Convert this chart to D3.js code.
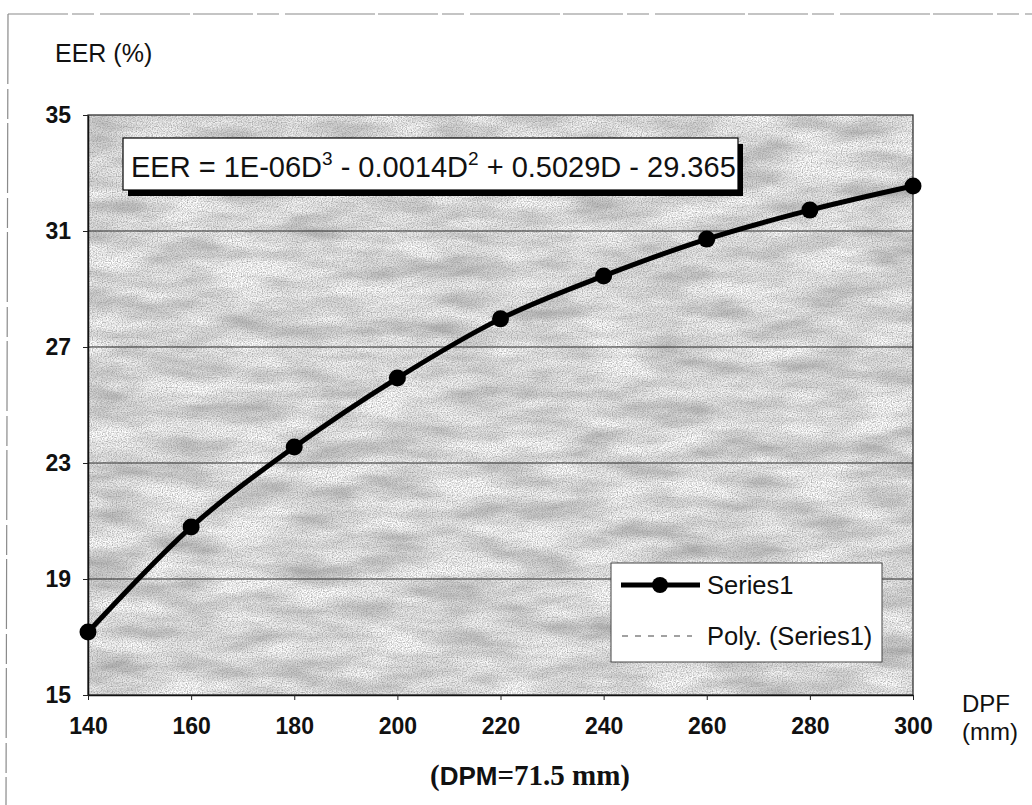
<!DOCTYPE html>
<html>
<head>
<meta charset="utf-8">
<script src="https://cdn.jsdelivr.net/npm/d3@7"></script>
<style>
  html, body { margin: 0; padding: 0; background: #fff; }
  svg { display: block; }
  .sans { font-family: "Liberation Sans", Arial, sans-serif; }
  .serif { font-family: "Liberation Serif", "Times New Roman", serif; }
</style>
</head>
<body>
<svg id="chart" width="1032" height="805"></svg>
<script>
// DPF (mm) on the horizontal axis
const dpf = [140, 160, 180, 200, 220, 240, 260, 280, 300];
// EER (%) measured at each DPF
const eer = [17.17, 20.79, 23.55, 25.93, 27.97, 29.45, 30.72, 31.72, 32.55];
const xTicks = [140, 160, 180, 200, 220, 240, 260, 280, 300];
const yTicks = [15, 19, 23, 27, 31, 35];
const seriesNames = ["Series1", "Poly. (Series1)"];

const svg = d3.select("#chart");
const plot = { left: 88, right: 913, top: 115, bottom: 695 };

const x = d3.scaleLinear().domain([140, 300]).range([plot.left, plot.right]);
const y = d3.scaleLinear().domain([15, 35]).range([plot.bottom, plot.top]);

// page frame (thin dashed lines along top and left)
svg.append("line").attr("x1", 8).attr("y1", 14).attr("x2", 1032).attr("y2", 14)
  .attr("stroke", "#8a8a8a").attr("stroke-width", 1.2).attr("stroke-dasharray", "60,4,22,6,90,3");
svg.append("line").attr("x1", 8).attr("y1", 14).attr("x2", 6).attr("y2", 805)
  .attr("stroke", "#8a8a8a").attr("stroke-width", 1.2).attr("stroke-dasharray", "70,5,30,4");

// mottled gray texture for the plot area
const defs = svg.append("defs");
const f = defs.append("filter").attr("id", "mottle")
  .attr("filterUnits", "objectBoundingBox").attr("x", 0).attr("y", 0).attr("width", 1).attr("height", 1);
f.append("feTurbulence").attr("type", "fractalNoise").attr("baseFrequency", "0.014 0.05")
  .attr("numOctaves", 3).attr("seed", 7).attr("result", "big");
f.append("feColorMatrix").attr("in", "big").attr("type", "matrix")
  .attr("values", "0.9 0 0 0 0.34  0.9 0 0 0 0.34  0.9 0 0 0 0.34  0 0 0 0 1").attr("result", "bigGray");
f.append("feTurbulence").attr("type", "fractalNoise").attr("baseFrequency", "0.8")
  .attr("numOctaves", 1).attr("seed", 2).attr("result", "fine");
f.append("feColorMatrix").attr("in", "fine").attr("type", "matrix")
  .attr("values", "0 0 0 0 0.3  0 0 0 0 0.3  0 0 0 0 0.3  2.0 0 0 0 -0.72").attr("result", "dots");
f.append("feComposite").attr("in", "dots").attr("in2", "bigGray").attr("operator", "over");

svg.append("rect")
  .attr("x", plot.left).attr("y", plot.top)
  .attr("width", plot.right - plot.left).attr("height", plot.bottom - plot.top)
  .attr("fill", "#c8c8c8").attr("filter", "url(#mottle)");

// horizontal gridlines
svg.append("g").selectAll("line").data(yTicks.filter(d => d > 15 && d < 35)).join("line")
  .attr("x1", plot.left).attr("x2", plot.right)
  .attr("y1", d => y(d)).attr("y2", d => y(d))
  .attr("stroke", "#2a2a2a").attr("stroke-width", 1.1);

// plot border
svg.append("rect")
  .attr("x", plot.left).attr("y", plot.top)
  .attr("width", plot.right - plot.left).attr("height", plot.bottom - plot.top)
  .attr("fill", "none").attr("stroke", "#333").attr("stroke-width", 1.3);

// axes
const yAxis = svg.append("g").attr("class", "sans")
  .attr("transform", `translate(${plot.left},0)`)
  .call(d3.axisLeft(y).tickValues(yTicks).tickSize(5).tickSizeOuter(0).tickPadding(12));
const xAxis = svg.append("g").attr("class", "sans")
  .attr("transform", `translate(0,${plot.bottom})`)
  .call(d3.axisBottom(x).tickValues(xTicks).tickSize(5).tickSizeOuter(0).tickPadding(18));
[yAxis, xAxis].forEach(g => {
  g.select(".domain").attr("stroke", "#111").attr("stroke-width", 1.5);
  g.selectAll(".tick line").attr("stroke", "#222").attr("stroke-width", 1);
  g.selectAll(".tick text").attr("fill", "#111").attr("font-size", 23).attr("font-weight", "bold")
    .attr("font-family", "'Liberation Sans', Arial, sans-serif");
});

// polynomial trendline (dashed), drawn beneath the series
const pts = dpf.map((d, i) => [d, eer[i]]);
const smooth = d3.line().x(d => x(d[0])).y(d => y(d[1])).curve(d3.curveCatmullRom.alpha(0.5));
svg.append("path").datum(pts).attr("d", smooth)
  .attr("fill", "none").attr("stroke", "#555").attr("stroke-width", 1).attr("stroke-dasharray", "6,6");

// Series1 line and markers
svg.append("path").datum(pts).attr("d", smooth)
  .attr("fill", "none").attr("stroke", "#000").attr("stroke-width", 5).attr("stroke-linejoin", "round");
svg.append("g").selectAll("circle").data(pts).join("circle")
  .attr("cx", d => x(d[0])).attr("cy", d => y(d[1])).attr("r", 8.5).attr("fill", "#000");

// fitted equation box with shadow
const eq = { x: 123, y: 138, w: 615, h: 52 };
svg.append("rect").attr("x", eq.x + 5).attr("y", eq.y + 6).attr("width", eq.w).attr("height", eq.h).attr("fill", "#000");
svg.append("rect").attr("x", eq.x).attr("y", eq.y).attr("width", eq.w).attr("height", eq.h)
  .attr("fill", "#fff").attr("stroke", "#000").attr("stroke-width", 1.2);
const eqText = svg.append("text").attr("class", "sans").attr("x", 131).attr("y", 177)
  .attr("font-size", 29).attr("fill", "#111");
eqText.append("tspan").text("EER = 1E-06D");
eqText.append("tspan").attr("font-size", 19).attr("dy", -12).text("3");
eqText.append("tspan").attr("dy", 12).text(" - 0.0014D");
eqText.append("tspan").attr("font-size", 19).attr("dy", -12).text("2");
eqText.append("tspan").attr("dy", 12).text(" + 0.5029D - 29.365");

// legend
const lg = svg.append("g").attr("class", "sans");
lg.append("rect").attr("x", 611).attr("y", 563).attr("width", 271).attr("height", 99)
  .attr("fill", "#fff").attr("stroke", "#444").attr("stroke-width", 1);
lg.append("line").attr("x1", 621).attr("x2", 700).attr("y1", 585).attr("y2", 585)
  .attr("stroke", "#000").attr("stroke-width", 5);
lg.append("circle").attr("cx", 660).attr("cy", 585).attr("r", 8).attr("fill", "#000");
lg.append("line").attr("x1", 622).attr("x2", 692).attr("y1", 636).attr("y2", 636)
  .attr("stroke", "#444").attr("stroke-width", 1.2).attr("stroke-dasharray", "6,7");
lg.selectAll("text.item").data(seriesNames).join("text").attr("class", "item")
  .attr("x", 707).attr("y", (d, i) => 594 + i * 51)
  .attr("font-size", 25.5).attr("fill", "#111").text(d => d);

// axis titles
svg.append("text").attr("class", "sans").attr("x", 55).attr("y", 62)
  .attr("font-size", 25).attr("fill", "#111").text("EER (%)");
svg.append("text").attr("class", "sans").attr("x", 962).attr("y", 712)
  .attr("font-size", 24).attr("fill", "#111").text("DPF");
svg.append("text").attr("class", "sans").attr("x", 962).attr("y", 740)
  .attr("font-size", 24).attr("fill", "#111").text("(mm)");

// note under the x axis
const note = svg.append("text").attr("x", 530).attr("y", 785).attr("text-anchor", "middle")
  .attr("font-size", 29).attr("font-weight", "bold").attr("fill", "#111");
note.append("tspan").attr("class", "serif").text("(");
note.append("tspan").attr("class", "sans").attr("font-size", 26).text("DPM");
note.append("tspan").attr("class", "serif").text("=71.5 mm)");
</script>
</body>
</html>
